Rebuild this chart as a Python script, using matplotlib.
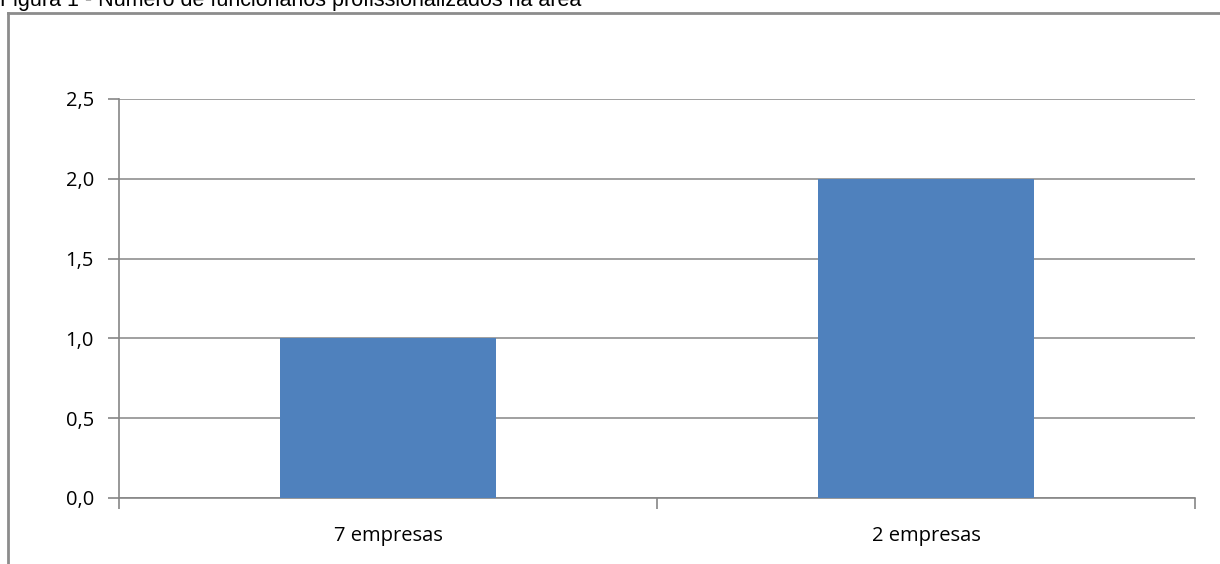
import matplotlib
matplotlib.use("Agg")
import matplotlib.pyplot as plt
from matplotlib.lines import Line2D
from matplotlib.ticker import FuncFormatter

categorias = ["7 empresas", "2 empresas"]
valores = [1.0, 2.0]
ticks_y = [0.0, 0.5, 1.0, 1.5, 2.0, 2.5]

W, H = 1220, 564
fig = plt.figure(figsize=(W / 100, H / 100), dpi=100)

# área do gráfico em pixels
x0, x1, y_top, y_bot = 119, 1195, 99, 498
ax = fig.add_axes([x0 / W, 1 - y_bot / H, (x1 - x0) / W, (y_bot - y_top) / H])

cinza = "#868686"
ax.bar(range(len(categorias)), valores, width=0.4, color="#4f81bd", zorder=3)
ax.set_xlim(-0.5, len(categorias) - 0.5)
ax.set_ylim(0, 2.5)

ax.set_yticks(ticks_y)
ax.yaxis.set_major_formatter(FuncFormatter(lambda v, p: f"{v:.1f}".replace(".", ",")))
ax.set_xticks([-0.5, 0.5, 1.5], minor=False)
ax.set_xticklabels([])
ax.set_xticks(range(len(categorias)), minor=True)
ax.set_xticklabels(categorias, minor=True)
ax.tick_params(axis="x", which="minor", length=0, pad=20)
ax.tick_params(axis="x", which="major", length=8, color=cinza, width=1.2)
ax.tick_params(axis="y", length=8, color=cinza, width=1.2, pad=10)
for lbl in ax.get_yticklabels() + ax.get_xticklabels(minor=True):
    lbl.set_fontfamily("Open Sans")
    lbl.set_fontsize(14.5)
    lbl.set_color("#000000")

ax.grid(axis="y", color=cinza, linewidth=1.1, zorder=0)
for lado in ["top", "right"]:
    ax.spines[lado].set_visible(False)
for lado in ["left", "bottom"]:
    ax.spines[lado].set_color(cinza)
    ax.spines[lado].set_linewidth(1.2)

# moldura externa (cortada à direita e embaixo)
fx, fy = 7.5 / W, 1 - 13 / H
fig.add_artist(Line2D([fx, fx], [0, fy], color="#8c8c8c", lw=2, transform=fig.transFigure))
fig.add_artist(Line2D([fx, 1], [fy, fy], color="#8c8c8c", lw=2, transform=fig.transFigure))

# título parcialmente visível no topo
fig.text(0, 1 - 6 / H, "Figura 1 - Número de funcionários profissionalizados na área",
         fontfamily="Liberation Sans", fontsize=15.5, va="baseline", ha="left")

fig.savefig("out.png", dpi=100)
